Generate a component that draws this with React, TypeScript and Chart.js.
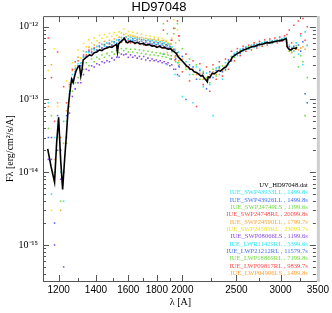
import { useEffect, useRef } from 'react';
import { Chart, registerables } from 'chart.js';

Chart.register(...registerables);

const TITLE = 'HD97048';
const X_TITLE = 'λ [A]';
const Y_TITLE = 'Fλ [erg/cm²/s/A]';
const FLUX_UNIT = 1e-13; // all flux arrays are in units of 1e-13 erg/cm2/s/A

const xMajorTicks = [1200, 1400, 1600, 1800, 2000, 2500, 3000, 3500];
const xMinorTicks = [1300, 1500, 1700, 1900, 2250, 2750, 3250];

// SWP camera wavelength grid (A)
const swpWave = [
  1150, 1165, 1180, 1195, 1210, 1225, 1240, 1255,
  1270, 1285, 1300, 1315, 1330, 1345, 1360, 1375,
  1390, 1405, 1420, 1435, 1450, 1465, 1480, 1495,
  1510, 1525, 1540, 1555, 1570, 1585, 1600, 1615,
  1630, 1645, 1660, 1675, 1690, 1705, 1720, 1735,
  1750, 1765, 1780, 1795, 1810, 1825, 1840, 1855,
  1870, 1885, 1900, 1915, 1930, 1945, 1960, 1975,
];

// LWR/LWP camera wavelength grid (A)
const lwWave = [
  1850, 1880, 1910, 1940, 1970, 2000, 2030, 2060, 2090, 2120,
  2150, 2180, 2210, 2240, 2270, 2300, 2330, 2360, 2390, 2420,
  2450, 2480, 2510, 2540, 2570, 2600, 2630, 2660, 2690, 2720,
  2750, 2780, 2810, 2840, 2870, 2900, 2930, 2960, 2990, 3020,
  3050, 3080, 3110, 3140, 3170, 3200, 3230, 3260, 3290, 3320,
  3350,
];

// Combined spectrum UV_HD97048.dat
const uvWave = [
  1147, 1163, 1180, 1190, 1200, 1210, 1220, 1230, 1240, 1248, 1256, 1266, 1274, 1282, 1290,
  1300, 1308, 1315, 1322, 1328, 1340, 1352, 1363, 1375, 1390, 1405, 1421, 1435, 1450, 1465,
  1481, 1495, 1510, 1524, 1530, 1537, 1543, 1555, 1565, 1575, 1585, 1595, 1610, 1628, 1645,
  1660, 1680, 1700, 1720, 1746, 1765, 1780, 1800, 1820, 1840, 1860, 1873, 1890, 1905, 1920,
  1935, 1950, 1965, 1976, 1990, 2005, 2020, 2034, 2050, 2065, 2080, 2100, 2120, 2145, 2160,
  2175, 2190, 2205, 2217, 2225, 2240, 2263, 2280, 2300, 2320, 2340, 2360, 2380, 2397, 2420,
  2440, 2457, 2480, 2500, 2529, 2550, 2575, 2600, 2630, 2668, 2700, 2730, 2760, 2790, 2826,
  2860, 2890, 2920, 2950, 2980, 3010, 3040, 3060, 3070, 3083, 3100, 3120, 3134, 3150, 3170,
  3190, 3213,
];
const uvFlux = [
  0.21, 0.12, 0.073, 0.25, 0.57, 0.15, 0.058, 0.15, 0.35, 0.75, 1.2, 1.9, 1.7, 2.1, 2.5,
  2.8, 2.9, 2.1, 2.6, 3.5, 3.7, 3.9, 4.1, 4.0, 4.4, 4.5, 4.8, 4.7, 5.0, 5.1,
  5.3, 5.2, 5.5, 5.7, 4.5, 5.8, 6.0, 6.3, 6.6, 6.9, 6.2, 6.0, 6.3, 6.2, 5.9,
  6.1, 5.8, 5.9, 5.6, 5.7, 5.4, 5.5, 5.2, 5.4, 5.1, 5.2, 5.0, 4.9, 5.0, 4.7,
  4.5, 4.3, 3.9, 3.7, 3.5, 3.3, 3.1, 2.9, 2.8, 2.6, 2.6, 2.4, 2.35, 2.2, 2.1,
  2.15, 1.95, 1.85, 1.75, 2.05, 2.0, 2.3, 2.25, 2.35, 2.5, 2.45, 2.6, 2.75, 2.8, 3.2,
  3.4, 3.8, 4.0, 4.2, 4.4, 4.6, 4.8, 4.9, 5.1, 5.3, 5.4, 5.6, 5.7, 5.8, 6.0,
  6.0, 6.1, 6.2, 6.3, 6.4, 6.5, 6.6, 6.8, 6.9, 5.3, 5.0, 4.8, 4.8, 5.0, 5.1,
  5.0, 5.2,
];

const swp43933 = [
  0.9, 0.05, 0.3, 0.5, 0.1, 0.04, 0.5, 1.3,
  2.2, 2.7, 3.1, 3.2, 3.8, 4.5, 4.4, 4.9,
  4.8, 5.4, 5.2, 5.8, 5.4, 6.0, 5.7, 6.3,
  6.0, 6.6, 6.4, 7.1, 6.8, 7.3, 6.7, 7.2,
  6.6, 7.0, 6.5, 6.9, 6.4, 6.7, 6.2, 6.6,
  6.1, 6.5, 5.9, 6.3, 5.8, 6.2, 5.7, 6.0,
  5.5, 5.8, 5.2, 5.3, 4.6, 3.9, 3.2, 2.1,
];
const swp43926 = [
  0.3, 0.15, 0.02, 0.6, 0.2, 0.1, 0.6, 1.2,
  1.9, 2.4, 2.9, 2.9, 3.9, 3.9, 4.6, 4.4,
  5.0, 4.8, 5.4, 5.1, 5.6, 5.3, 5.9, 5.6,
  6.2, 5.9, 6.6, 6.5, 7.0, 6.4, 6.8, 6.5,
  6.9, 6.4, 6.7, 6.2, 6.6, 6.0, 6.4, 5.9,
  6.3, 5.8, 6.1, 5.7, 6.0, 5.5, 5.9, 5.3,
  5.7, 5.1, 5.4, 4.7, 4.9, 3.6, 4.4, 2.8,
];
const swp24749 = [
  0.4, 0.6, 0.1, 0.3, 0.04, 0.5, 0.25, 0.8,
  1.3, 1.7, 2.0, 2.2, 2.6, 3.2, 2.9, 3.6,
  3.3, 3.8, 3.6, 4.1, 3.8, 4.3, 4.0, 4.5,
  4.2, 4.7, 4.4, 5.0, 4.7, 5.0, 4.5, 4.9,
  4.5, 4.9, 4.4, 4.8, 4.3, 4.7, 4.2, 4.6,
  4.1, 4.5, 4.1, 4.4, 4.0, 4.3, 3.9, 4.2,
  3.8, 4.1, 3.6, 4.5, 8.0, 3.3, 11.0, 6.5,
];
const swp24748 = [
  7.0, 2.0, 0.5, 4.5, 0.3, 1.5, 0.9, 1.6,
  2.6, 3.3, 3.4, 3.2, 4.1, 4.1, 4.8, 4.6,
  5.1, 4.8, 5.4, 5.1, 5.7, 5.2, 5.9, 5.5,
  6.1, 5.7, 6.4, 6.1, 6.8, 6.1, 6.4, 6.0,
  6.5, 5.9, 6.4, 5.8, 6.3, 5.6, 6.1, 5.6,
  5.9, 5.5, 6.0, 5.4, 5.7, 5.3, 5.6, 5.1,
  5.5, 5.0, 5.2, 6.5, 9.5, 4.0, 12.0, 7.5,
];
const swp24590 = [
  0.8, 3.0, 0.15, 0.9, 0.03, 0.25, 0.7, 1.5,
  2.5, 2.6, 3.8, 3.2, 4.6, 4.5, 5.2, 5.0,
  5.6, 5.3, 6.0, 5.7, 6.3, 5.9, 6.5, 6.2,
  6.8, 6.5, 7.2, 7.1, 7.8, 7.2, 7.5, 7.1,
  7.4, 6.9, 7.2, 6.7, 7.1, 6.6, 6.9, 6.5,
  6.8, 6.4, 6.7, 6.2, 6.6, 6.1, 6.4, 5.9,
  6.2, 5.7, 5.8, 5.2, 4.8, 6.0, 3.9, 3.0,
];
const swp24589 = [
  2.5, 0.03, 5.0, 0.8, 0.2, 0.1, 1.8, 1.7,
  3.2, 2.9, 4.8, 3.7, 5.9, 5.3, 6.6, 6.0,
  7.0, 6.4, 7.6, 6.9, 7.8, 7.2, 8.1, 7.4,
  8.3, 7.6, 8.5, 8.2, 9.3, 8.0, 8.6, 7.7,
  8.4, 7.4, 8.1, 7.1, 7.9, 7.0, 7.6, 6.8,
  7.4, 6.6, 7.2, 6.4, 7.0, 6.3, 6.9, 6.1,
  6.5, 6.0, 5.8, 7.0, 12.5, 5.0, 9.0, 4.0,
];
const swp08066 = [
  0.15, 0.3, 0.01, 0.2, 0.08, 0.005, 0.3, 0.65,
  1.1, 1.4, 1.7, 1.7, 2.2, 2.6, 2.5, 2.9,
  2.8, 3.1, 3.0, 3.3, 3.2, 3.4, 3.3, 3.7,
  3.5, 3.8, 3.8, 4.2, 4.1, 4.2, 3.8, 4.1,
  3.8, 4.0, 3.7, 3.9, 3.6, 3.9, 3.5, 3.7,
  3.4, 3.6, 3.4, 3.5, 3.3, 3.4, 3.2, 3.3,
  3.1, 3.2, 2.9, 3.0, 2.6, 2.6, 2.2, 2.1,
];
const lwr11429 = [
  6.5, 3.0, 5.8, 2.2, 4.5, 1.1, 3.3, 2.2, 0.9, 2.8,
  2.6, 1.5, 2.3, 1.6, 0.6, 2.7, 2.2, 1.9, 3.2, 3.0,
  3.9, 4.3, 4.0, 4.9, 4.6, 5.3, 4.9, 5.6, 5.2, 5.8,
  5.5, 6.0, 6.2, 5.8, 6.4, 6.0, 6.5, 6.2, 6.7, 6.8,
  7.0, 6.6, 5.6, 5.2, 4.6, 6.0, 4.2, 7.5, 3.0, 8.5,
  5.5,
];
const lwp21212 = [
  4.2, 5.5, 3.6, 4.8, 2.9, 3.9, 1.0, 3.0, 2.8, 1.9,
  2.5, 2.3, 1.4, 2.4, 2.0, 2.5, 2.8, 2.4, 2.6, 3.5,
  3.4, 4.2, 4.5, 4.3, 5.0, 5.2, 5.0, 5.5, 5.6, 5.4,
  5.9, 5.7, 6.1, 6.2, 6.0, 6.3, 6.4, 6.5, 6.3, 6.7,
  6.9, 6.0, 5.3, 4.9, 5.4, 5.1, 5.6, 4.6, 6.2, 1.2,
  0.9,
];
const lwp18869 = [
  11.0, 8.0, 4.0, 9.5, 3.2, 5.0, 2.6, 3.6, 2.2, 3.0,
  1.9, 2.4, 2.0, 1.7, 2.6, 2.1, 2.7, 2.9, 2.5, 3.4,
  3.9, 3.8, 4.5, 4.7, 4.6, 5.1, 5.3, 5.2, 5.6, 5.5,
  5.8, 6.0, 5.9, 6.2, 6.1, 6.3, 6.4, 6.3, 6.6, 6.5,
  6.9, 6.4, 4.6, 4.4, 3.8, 5.5, 2.8, 4.0, 3.3, 0.6,
  2.0,
];
const lwp09817 = [
  9.0, 12.0, 6.5, 3.5, 7.5, 2.4, 4.2, 1.8, 3.4, 0.8,
  3.1, 1.6, 2.8, 1.3, 3.0, 1.9, 3.3, 2.1, 3.6, 2.6,
  4.6, 3.4, 5.0, 4.0, 5.4, 4.6, 5.6, 4.8, 6.0, 5.1,
  6.3, 5.4, 6.6, 5.6, 6.8, 5.9, 7.0, 6.0, 7.2, 6.3,
  7.5, 7.8, 9.0, 6.0, 10.5, 5.0, 12.0, 8.0, 13.0, 6.5,
  10.0,
];
const lwp04906 = [
  5.5, 4.4, 5.0, 3.8, 3.4, 3.6, 2.8, 2.6, 2.6, 2.2,
  2.3, 1.9, 1.9, 2.2, 2.4, 2.2, 2.6, 2.5, 2.9, 3.1,
  3.6, 4.1, 4.2, 4.6, 4.7, 5.1, 5.0, 5.4, 5.3, 5.6,
  5.6, 5.9, 5.9, 6.1, 6.0, 6.3, 6.2, 6.5, 6.4, 6.7,
  6.7, 5.4, 4.6, 4.5, 4.7, 4.9, 4.8, 5.1, 5.3, 4.9,
  5.6,
];

const uvLabel = 'UV_HD97048.dat';
const seriesLabels = [
  'IUE_SWP43933LL , 1499.8s',
  'IUE_SWP43926LL , 1499.8s',
  'IUE_SWP24749LS , 1199.6s',
  'IUE_SWP24748RL , 20099.8s',
  'IUE_SWP24590LL , 1799.7s',
  'IUE_SWP24589RL , 23099.7s',
  'IUE_SWP08066LS , 1199.6s',
  'IUE_LWR11429RL , 5399.6s',
  'IUE_LWP21212RL , 11579.7s',
  'IUE_LWP18869RL , 7199.8s',
  'IUE_LWP09817RL , 9839.7s',
  'IUE_LWP04906LS , 1499.8s',
];
const seriesColors = [
  '#2ee6f2', '#3f6ff2', '#6fdc3c', '#ff4a4a', '#ffa436', '#f2e226',
  '#8a4ae0', '#2ee6f2', '#3f6ff2', '#6fdc3c', '#ff4a4a', '#ffa436',
];
const seriesFlux = [
  swp43933, swp43926, swp24749, swp24748, swp24590, swp24589, swp08066,
  lwr11429, lwp21212, lwp18869, lwp09817, lwp04906,
];
const seriesWave = [
  swpWave, swpWave, swpWave, swpWave, swpWave, swpWave, swpWave,
  lwWave, lwWave, lwWave, lwWave, lwWave,
];

const SUP: Record<string, string> = {
  '-': '⁻', '0': '⁰', '1': '¹', '2': '²', '3': '³', '4': '⁴',
  '5': '⁵', '6': '⁶', '7': '⁷', '8': '⁸', '9': '⁹',
};
const powLabel = (e: number) => '10' + String(e).split('').map((c) => SUP[c] || c).join('');

const framePlugin = {
  id: 'idlFrame',
  afterDatasetsDraw(chart: any) {
    const { ctx, chartArea: a, scales } = chart;
    const xs = scales.x;
    const ys = scales.y;
    ctx.save();
    ctx.strokeStyle = '#555';
    ctx.lineWidth = 1;
    ctx.beginPath();
    ctx.moveTo(a.left + 0.5, a.bottom + 0.5);
    ctx.lineTo(a.left + 0.5, a.top + 0.5);
    ctx.lineTo(a.right, a.top + 0.5);
    ctx.moveTo(a.left, a.bottom + 0.5);
    ctx.lineTo(a.right, a.bottom + 0.5);
    for (const v of xMajorTicks.concat(xMinorTicks)) {
      const len = xMajorTicks.includes(v) ? 6 : 3;
      const px = Math.round(xs.getPixelForValue(v)) + 0.5;
      if (px < a.left || px > a.right) continue;
      ctx.moveTo(px, a.bottom);
      ctx.lineTo(px, a.bottom - len);
      ctx.moveTo(px, a.top);
      ctx.lineTo(px, a.top + len);
    }
    for (const t of ys.ticks) {
      const v = t.value;
      const lg = Math.log10(v);
      const major = Math.abs(lg - Math.round(lg)) < 1e-6;
      const len = major ? 6 : 3;
      const py = Math.round(ys.getPixelForValue(v)) + 0.5;
      if (py < a.top || py > a.bottom) continue;
      ctx.moveTo(a.left, py);
      ctx.lineTo(a.left + len, py);
      ctx.moveTo(a.right - 2, py);
      ctx.lineTo(a.right - 2 - len, py);
    }
    ctx.stroke();
    ctx.strokeStyle = '#cfcfcf';
    ctx.lineWidth = 3;
    ctx.beginPath();
    ctx.moveTo(a.right + 0.5, a.top);
    ctx.lineTo(a.right + 0.5, a.bottom + 1);
    ctx.stroke();
    ctx.restore();
  },
  afterDraw(chart: any) {
    const { ctx, chartArea: a } = chart;
    ctx.save();
    ctx.font = '6.6px "Liberation Serif"';
    ctx.textAlign = 'right';
    ctx.textBaseline = 'middle';
    const xr = a.right - 10;
    const y0 = a.top + 169;
    const step = 7.35;
    ctx.fillStyle = '#000';
    ctx.fillText(uvLabel, xr, y0);
    seriesLabels.forEach((lab, i) => {
      ctx.fillStyle = seriesColors[i];
      ctx.fillText(lab, xr, y0 + step * (i + 1));
    });
    ctx.restore();
  },
};

export default function App() {
  const ref = useRef<HTMLCanvasElement | null>(null);
  useEffect(() => {
    document.body.style.margin = '0';
    if (!ref.current) return;
    const datasets: any[] = [
      {
        label: uvLabel,
        data: uvWave.map((w, i) => ({ x: w, y: uvFlux[i] * FLUX_UNIT })),
        showLine: true,
        borderColor: '#000',
        borderWidth: 1.6,
        pointRadius: 0,
        tension: 0,
      },
    ];
    seriesLabels.forEach((lab, k) => {
      datasets.push({
        label: lab,
        data: seriesWave[k].map((w, i) => ({ x: w, y: seriesFlux[k][i] * FLUX_UNIT })),
        showLine: false,
        pointRadius: 1.1,
        pointBorderWidth: 0,
        pointStyle: 'rect',
        backgroundColor: seriesColors[k],
        borderColor: seriesColors[k],
      });
    });
    const chart = new Chart(ref.current, {
      type: 'scatter',
      data: { datasets },
      options: {
        responsive: false,
        animation: false,
        layout: { padding: { left: 0, right: 14, top: 0, bottom: 0 } },
        plugins: {
          legend: { display: false },
          tooltip: { enabled: false },
          title: {
            display: true,
            text: TITLE,
            color: '#000',
            font: { family: '"Liberation Sans"', size: 13, weight: 'normal' },
            padding: { top: 0, bottom: 0.5 },
          },
        },
        scales: {
          x: {
            type: 'logarithmic',
            min: 1125,
            max: 3500,
            grid: { display: false, drawTicks: false },
            border: { display: false },
            afterBuildTicks: (s: any) => {
              s.ticks = xMajorTicks.map((v) => ({ value: v }));
            },
            afterFit: (s: any) => {
              s.height = 32;
            },
            ticks: {
              autoSkip: false,
              maxRotation: 0,
              padding: 3,
              color: '#000',
              font: { family: '"Liberation Sans"', size: 10 },
              callback: (v: any) => String(v),
            },
            title: {
              display: true,
              text: X_TITLE,
              color: '#000',
              font: { family: '"Liberation Serif"', size: 10 },
              padding: { top: 0, bottom: 5 },
            },
          },
          y: {
            type: 'logarithmic',
            min: 3.2e-16,
            max: 1.4e-12,
            grid: { display: false, drawTicks: false },
            border: { display: false },
            afterBuildTicks: (s: any) => {
              const t: any[] = [];
              for (let e = -16; e <= -12; e++) {
                for (let m = 1; m <= 9; m++) {
                  const v = m * Math.pow(10, e);
                  if (v >= 3.2e-16 && v <= 1.4e-12) t.push({ value: v });
                }
              }
              s.ticks = t;
            },
            afterFit: (s: any) => {
              s.width = 43;
            },
            ticks: {
              autoSkip: false,
              padding: 5,
              color: '#000',
              font: { family: '"Liberation Serif"', size: 10 },
              callback: (v: any) => {
                const lg = Math.log10(Number(v));
                const r = Math.round(lg);
                return Math.abs(lg - r) < 1e-6 ? powLabel(r) : '';
              },
            },
            title: {
              display: true,
              text: Y_TITLE,
              color: '#000',
              font: { family: '"Liberation Serif"', size: 10 },
              padding: { top: 4, bottom: 0 },
            },
          },
        },
      },
      plugins: [framePlugin],
    } as any);
    return () => chart.destroy();
  }, []);
  return (
    <div style={{ width: 332, height: 313 }}>
      <canvas ref={ref} width={332} height={313} style={{ display: 'block' }} />
    </div>
  );
}
